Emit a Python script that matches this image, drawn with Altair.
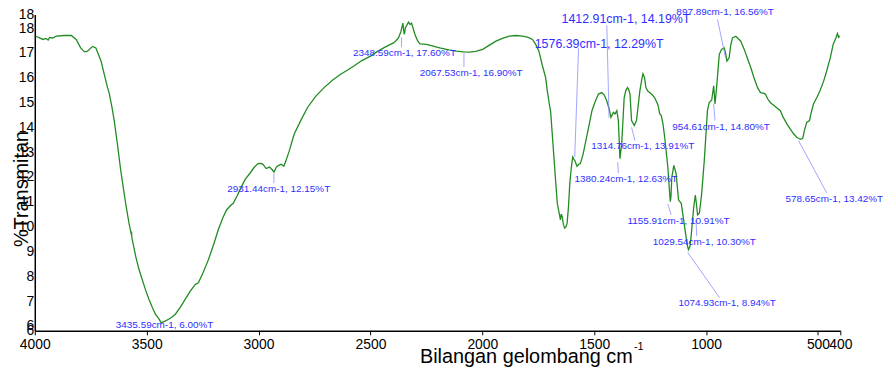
import altair as alt
import pandas as pd

# ---- spectrum (wavenumber cm-1, %T) ----
wavenumber = [3996, 3963, 3950, 3940, 3934, 3920, 3904, 3870, 3837, 3815, 3795, 3778, 3764, 3742, 3727,
              3704, 3690, 3675, 3668, 3655, 3645, 3631, 3616, 3605, 3594, 3579, 3570, 3568, 3566, 3549,
              3535, 3520, 3505, 3490, 3475, 3461, 3445, 3435, 3420, 3402, 3388, 3372, 3350, 3328, 3305,
              3283, 3269, 3250, 3224, 3200, 3180, 3160, 3143, 3125, 3113, 3095, 3077, 3060, 3039, 3020,
              3003, 2990, 2980, 2966, 2951, 2940, 2931, 2920, 2910, 2899, 2887, 2877, 2862, 2850, 2840,
              2810, 2781, 2745, 2707, 2670, 2633, 2600, 2574, 2540, 2500, 2470, 2441, 2415, 2397, 2385,
              2375, 2364, 2355, 2350, 2348, 2344, 2338, 2330, 2323, 2316, 2308, 2301, 2290, 2279, 2249,
              2220, 2190, 2150, 2116, 2085, 2057, 2030, 1998, 1970, 1939, 1910, 1880, 1850, 1820, 1795,
              1776, 1762, 1747, 1732, 1717, 1710, 1700, 1695, 1688, 1680, 1672, 1665, 1655, 1651, 1647,
              1643, 1638, 1632, 1626, 1621, 1615, 1609, 1602, 1596, 1590, 1587, 1577, 1570, 1562, 1550,
              1540, 1525, 1510, 1495, 1481, 1466, 1455, 1444, 1435, 1425, 1414, 1407, 1399, 1392, 1385,
              1377, 1366, 1358, 1351, 1345, 1340, 1333, 1321, 1311, 1296, 1288, 1282, 1275, 1269, 1260,
              1252, 1240, 1230, 1215, 1207, 1200, 1192, 1185, 1171, 1160, 1157, 1153, 1144, 1134, 1123,
              1111, 1096, 1085, 1079, 1072, 1067, 1060, 1055, 1048, 1043, 1038, 1030, 1020, 1008, 1000,
              994, 986, 975, 966, 960, 953, 941, 931, 919, 913, 907, 897, 890, 882, 867,
              845, 830, 816, 800, 786, 770, 757, 745, 735, 725, 712, 690, 668, 655, 639,
              625, 609, 595, 587, 578, 568, 560, 550, 538, 530, 520, 505, 491, 475, 461,
              445, 432, 420, 413, 407, 405]
transmittance = [17.67, 17.54, 17.58, 17.52, 17.62, 17.60, 17.67, 17.70, 17.70, 17.54, 17.20, 17.04, 17.07, 17.26, 17.20,
                 16.67, 16.15, 15.60, 15.40, 14.80, 14.27, 13.34, 12.27, 11.60, 10.94, 10.14, 9.75, 9.80, 9.55, 8.80,
                 8.30, 7.87, 7.45, 7.07, 6.75, 6.47, 6.28, 6.12, 6.18, 6.27, 6.35, 6.47, 6.75, 7.07, 7.40,
                 7.67, 7.74, 8.10, 8.67, 9.30, 9.87, 10.35, 10.67, 10.85, 10.94, 11.25, 11.60, 11.90, 12.14, 12.38,
                 12.54, 12.55, 12.51, 12.34, 12.40, 12.30, 12.20, 12.40, 12.47, 12.51, 12.43, 12.67, 13.07, 13.45, 13.74,
                 14.30, 14.80, 15.25, 15.60, 15.90, 16.14, 16.32, 16.47, 16.68, 16.87, 17.05, 17.20, 17.32, 17.40, 17.50,
                 17.60, 17.85, 18.20, 17.80, 17.75, 18.00, 18.10, 18.24, 18.14, 18.20, 17.95, 17.74, 17.50, 17.36, 17.34,
                 17.27, 17.20, 17.12, 17.07, 17.04, 17.03, 17.06, 17.14, 17.30, 17.47, 17.58, 17.67, 17.70, 17.67, 17.62,
                 17.54, 17.35, 17.07, 16.50, 16.00, 15.50, 14.90, 14.67, 13.80, 12.80, 11.80, 10.94, 10.47, 10.27, 10.50,
                 10.40, 10.10, 9.94, 10.00, 10.14, 10.80, 11.74, 12.40, 12.80, 12.70, 12.67, 12.43, 12.50, 12.54, 12.90,
                 13.34, 14.00, 14.67, 15.05, 15.34, 15.40, 15.30, 15.07, 14.80, 14.40, 14.60, 14.54, 14.67, 14.27, 12.74,
                 13.34, 15.20, 15.50, 15.60, 15.50, 15.34, 14.27, 14.07, 14.27, 15.47, 15.90, 16.16, 16.00, 15.60, 15.45,
                 15.40, 15.30, 15.20, 14.90, 14.54, 14.47, 14.10, 13.60, 12.40, 11.00, 11.20, 12.00, 12.47, 12.14, 11.07,
                 10.94, 10.00, 9.30, 9.07, 9.20, 9.60, 10.30, 10.80, 11.27, 10.90, 10.47, 10.54, 11.30, 12.67, 13.80,
                 14.67, 15.00, 15.10, 15.67, 14.94, 15.60, 16.94, 17.14, 17.20, 17.00, 16.67, 16.80, 17.30, 17.60, 17.67,
                 17.47, 17.15, 16.80, 16.40, 16.00, 15.60, 15.40, 15.38, 15.34, 15.15, 14.99, 14.83, 14.67, 14.40, 14.14,
                 13.95, 13.74, 13.60, 13.56, 13.52, 13.56, 13.90, 14.20, 14.27, 14.60, 14.94, 15.20, 15.47, 15.85, 16.27,
                 16.80, 17.34, 17.60, 17.78, 17.60, 17.70]

# ---- peak annotations ----
ann_label = ["3435.59cm-1, 6.00%T", "2931.44cm-1, 12.15%T", "2348.59cm-1, 17.60%T", "2067.53cm-1, 16.90%T",
             "1576.39cm-1, 12.29%T", "1412.91cm-1, 14.19%T", "1314.76cm-1, 13.91%T", "1380.24cm-1, 12.63%T",
             "1155.91cm-1, 10.91%T", "1029.54cm-1, 10.30%T", "1074.93cm-1, 8.94%T", "954.61cm-1, 14.80%T",
             "897.89cm-1, 16.56%T", "578.65cm-1, 13.42%T"]
ann_text_w = [3420, 2910, 2348, 2050, 1478, 1358, 1283, 1358, 1123, 1008, 906, 933, 915, 427]
ann_text_v = [6.03, 11.51, 17.00, 16.18, 17.36, 18.35, 13.23, 11.91, 10.23, 9.39, 6.91, 14.03, 18.63, 11.11]
lead_w1 = [3435.59, 2931.44, 2361, 2082, 1587, 1433.5, 1333, 1395, 1171, 1045, 1082, 966, 949, 587]
lead_v1 = [6.10, 12.15, 17.63, 17.00, 12.80, 14.39, 14.00, 12.60, 10.91, 10.27, 8.96, 14.94, 18.35, 13.47]
lead_w2 = [3435.59, 2931.44, 2361, 2082, 1570, 1443.7, 1318, 1392, 1156, 1042, 940, 960, 913, 461]
lead_v2 = [6.10, 11.75, 17.23, 16.43, 17.19, 18.11, 13.47, 12.16, 10.47, 9.63, 7.14, 14.27, 16.80, 11.36]
big_labels = ["1576.39cm-1, 12.29%T", "1412.91cm-1, 14.19%T"]

x_ticks = [4000, 3500, 3000, 2500, 2000, 1500, 1000, 500, 400]
y_ticks = [5.8, 6, 7, 8, 9, 10, 11, 12, 13, 14, 15, 16, 17, 18, 18.55]

spec = pd.DataFrame({"w": wavenumber, "t": transmittance})
ann = pd.DataFrame({"label": ann_label, "tw": ann_text_w, "tv": ann_text_v,
                    "w1": lead_w1, "v1": lead_v1, "w2": lead_w2, "v2": lead_v2})
ann["big"] = ann["label"].isin(big_labels)

FONT = "Liberation Sans"
xscale = alt.Scale(domain=[400, 4000], reverse=True, nice=False, zero=False)
yscale = alt.Scale(domain=[5.8, 18.55], nice=False, zero=False)

xaxis = alt.Axis(values=x_ticks, format="d", labelFlush=False, tickSize=4, labelPadding=3,
                 labelFontSize=14, labelFont=FONT, labelColor="black", tickColor="black",
                 domainColor="black", domainWidth=1.5, grid=False,
                 title="Bilangan gelombang cm", titleFont=FONT, titleFontSize=20,
                 titleFontWeight="normal", titleColor="black", titleX=495, titleY=32,
                 titleAlign="center", titleBaseline="alphabetic", labelOverlap=False)
yaxis = alt.Axis(values=y_ticks,
                 labelExpr="datum.value > 18.3 ? '18' : (datum.value < 5.9 ? '6' : format(datum.value, 'd'))",
                 tickSize=0, labelPadding=1, labelFontSize=14, labelFont=FONT, labelColor="black",
                 domainColor="black", domainWidth=1.5, grid=False, labelOverlap=False,
                 labelSeparation=0,
                 title="%Transmitan", titleFont=FONT, titleFontSize=20, titleFontWeight="normal",
                 titleColor="black", titleX=-13.5, titleY=175.5, titleAngle=-90,
                 titleAlign="center", titleBaseline="middle")

line = alt.Chart(spec).mark_line(color="#228b22", strokeWidth=1.3).encode(
    x=alt.X("w:Q", scale=xscale, axis=xaxis),
    y=alt.Y("t:Q", scale=yscale, axis=yaxis),
)

leaders = alt.Chart(ann).mark_rule(color="#8c8cff", strokeWidth=0.8).encode(
    x=alt.X("w1:Q", scale=xscale, axis=xaxis), x2="w2:Q",
    y=alt.Y("v1:Q", scale=yscale, axis=yaxis), y2="v2:Q",
)

small_text = alt.Chart(ann).transform_filter("!datum.big").mark_text(
    font=FONT, fontSize=10, color="#2f2fff", align="center", baseline="middle"
).encode(x=alt.X("tw:Q", scale=xscale, axis=xaxis), y=alt.Y("tv:Q", scale=yscale, axis=yaxis),
         text="label:N")

big_text = alt.Chart(ann).transform_filter("datum.big").mark_text(
    font=FONT, fontSize=12.5, color="#2f2fff", align="center", baseline="middle"
).encode(x=alt.X("tw:Q", scale=xscale, axis=xaxis), y=alt.Y("tv:Q", scale=yscale, axis=yaxis),
         text="label:N")

sup = alt.Chart(pd.DataFrame({"s": ["-1"]})).mark_text(
    font=FONT, fontSize=11, color="black", align="left", baseline="alphabetic"
).encode(x=alt.value(604), y=alt.value(338), text="s:N")

chart = alt.layer(line, leaders, small_text, big_text, sup).properties(
    width=812, height=319,
    autosize=alt.AutoSizeParams(type="none"),
    padding={"left": 27, "top": 5, "right": 43, "bottom": 36},
    background="white",
).configure_view(stroke=None).configure_axisY(labelOverlap=False)

chart.save("out.html", embed_options={"renderer": "svg", "actions": False})
